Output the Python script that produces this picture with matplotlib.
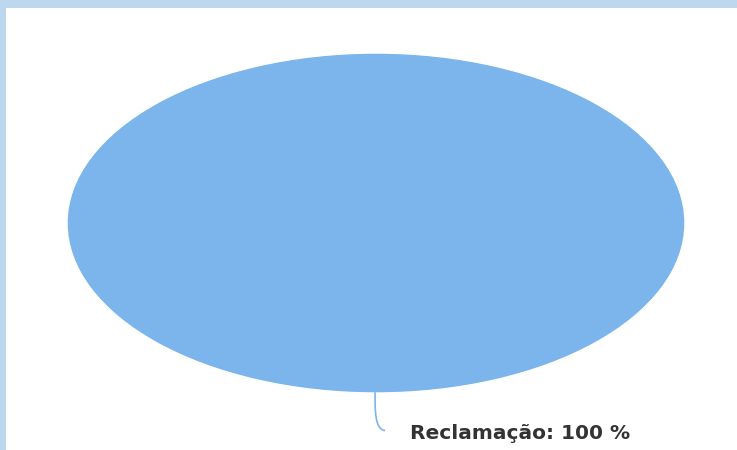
import numpy as np
import matplotlib
matplotlib.use('Agg')
from matplotlib import pyplot as plt
from matplotlib.patches import Rectangle

# dados
categorias = ['Reclamação']
valores = [100]
cores = ['#7cb5ec']

W, H = 737, 450
fig = plt.figure(figsize=(W / 100, H / 100), dpi=100)

# fundo com a moldura azul clara
bg = fig.add_axes([0, 0, 1, 1])
bg.set_xlim(0, W)
bg.set_ylim(H, 0)
bg.axis('off')
bg.add_patch(Rectangle((0, 0), W, 8, color='#bdd7ee', lw=0))
bg.add_patch(Rectangle((0, 0), 6, H, color='#bdd7ee', lw=0))

# pizza (esticada na horizontal como no original)
ex0, ey0, ex1, ey1 = 67, 53, 685, 393
ax = fig.add_axes([ex0 / W, 1 - ey1 / H, (ex1 - ex0) / W, (ey1 - ey0) / H])
ax.pie(valores, colors=cores, startangle=-90, counterclock=False, radius=1,
       wedgeprops=dict(linewidth=1, edgecolor='white'))
ax.set_aspect('auto')
ax.set_xlim(-1, 1)
ax.set_ylim(-1, 1)
ax.axis('off')

# rótulo com linha de ligação
total = sum(valores)
for cat, v in zip(categorias, valores):
    pct = v / total * 100
    t = np.linspace(0, 1, 30)
    xs = -0.003 + 0.03 * t ** 3
    ys = -1.0 - 0.22 * (1 - (1 - t) ** 1.6)
    ax.plot(xs, ys, color=cores[0], lw=1.2, clip_on=False)
    ax.text(0.11, -1.24, f'{cat}: {pct:.0f} %', color='#333333',
            fontsize=14.5, fontweight='bold', ha='left', va='center', clip_on=False)

fig.savefig('out.png', dpi=100, facecolor='white')
